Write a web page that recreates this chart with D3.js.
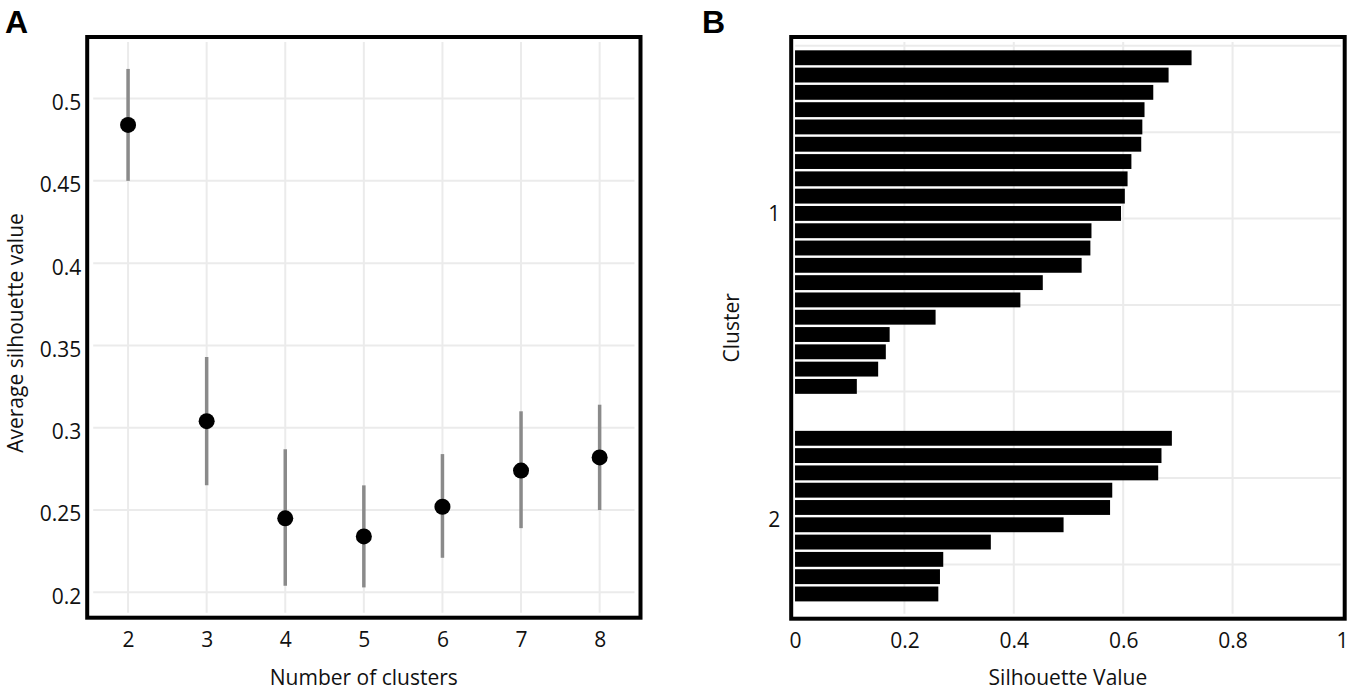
<!DOCTYPE html>
<html>
<head>
<meta charset="utf-8">
<script src="https://cdnjs.cloudflare.com/ajax/libs/d3/7.8.5/d3.min.js"></script>
<title>Silhouette analysis</title>
<style>
body { margin: 0; background: #fff; }
text { font-family: "Open Sans", sans-serif; fill: #111; }
.tick text { font-size: 21px; }
.title { font-size: 21px; }
.panel { font-family: "Liberation Sans", Arial, sans-serif; font-weight: bold; font-size: 32px; fill: #000; }
.grid line { stroke: #ebebeb; stroke-width: 2px; }
.frame { fill: none; stroke: #000; stroke-width: 4px; }
</style>
</head>
<body>
<div id="container"></div>
<script>
// Panel A: average silhouette value vs number of clusters
var clusters = [2, 3, 4, 5, 6, 7, 8];
var avgSil  = [0.484, 0.304, 0.245, 0.234, 0.252, 0.274, 0.282];
var silLow  = [0.450, 0.265, 0.204, 0.203, 0.221, 0.239, 0.250];
var silHigh = [0.518, 0.343, 0.287, 0.265, 0.284, 0.310, 0.314];
var yTicksA = [0.2, 0.25, 0.3, 0.35, 0.4, 0.45, 0.5];

// Panel B: silhouette values of the members of each cluster
var cluster1 = [0.725, 0.683, 0.655, 0.639, 0.635, 0.633, 0.615, 0.608, 0.603, 0.596,
                0.542, 0.540, 0.524, 0.453, 0.412, 0.257, 0.173, 0.166, 0.152, 0.113];
var cluster2 = [0.689, 0.670, 0.664, 0.580, 0.576, 0.491, 0.358, 0.271, 0.265, 0.262];
var clusterNames = ["1", "2"];
var clusterTickPos = [10, 27.7];   // row position of the cluster labels
var xTicksB = [0, 0.2, 0.4, 0.6, 0.8, 1];
var rowGridB = [0.3, 5.3, 10.3, 15.3, 20.3, 25.3, 30.3];
var gapRows = 2;  // empty rows between clusters

var w = 1350, h = 692;

var svg = d3.select("#container").append("svg")
    .attr("width", w)
    .attr("height", h);

// ---------- panel A ----------
var A = { x0: 87.2, x1: 640.5, y0: 37, y1: 617.7 };

var xA = d3.scaleLinear().domain([1.48, 8.52]).range([A.x0, A.x1]);
var yA = d3.scaleLinear().domain([0.1846, 0.5374]).range([A.y1, A.y0]);

var gA = svg.append("g");

var gridA = gA.append("g").attr("class", "grid");
gridA.selectAll("line.v").data(clusters).enter().append("line")
    .attr("x1", function(d) { return xA(d); })
    .attr("x2", function(d) { return xA(d); })
    .attr("y1", A.y0 + 5).attr("y2", A.y1 - 5);
gridA.selectAll("line.h").data(yTicksA).enter().append("line")
    .attr("y1", function(d) { return yA(d); })
    .attr("y2", function(d) { return yA(d); })
    .attr("x1", A.x0 + 6).attr("x2", A.x1 - 6);

// error bars
gA.selectAll("line.err").data(clusters).enter().append("line")
    .attr("x1", function(d) { return xA(d); })
    .attr("x2", function(d) { return xA(d); })
    .attr("y1", function(d, i) { return yA(silLow[i]); })
    .attr("y2", function(d, i) { return yA(silHigh[i]); })
    .attr("stroke", "#8a8a8a")
    .attr("stroke-width", 3.5);

gA.selectAll("circle").data(clusters).enter().append("circle")
    .attr("cx", function(d) { return xA(d); })
    .attr("cy", function(d, i) { return yA(avgSil[i]); })
    .attr("r", 8)
    .attr("fill", "#000");

gA.append("rect").attr("class", "frame")
    .attr("x", A.x0).attr("y", A.y0)
    .attr("width", A.x1 - A.x0).attr("height", A.y1 - A.y0);

var axA_x = gA.append("g")
    .attr("transform", "translate(0," + A.y1 + ")")
    .call(d3.axisBottom(xA).tickValues(clusters).tickSize(0).tickPadding(14).tickFormat(d3.format("d")));
axA_x.select(".domain").remove();

var axA_y = gA.append("g")
    .attr("transform", "translate(" + A.x0 + ",0)")
    .call(d3.axisLeft(yA).tickValues(yTicksA).tickSize(0).tickPadding(6)
        .tickFormat(function(d) { return String(+d.toFixed(2)); }));
axA_y.select(".domain").remove();
axA_y.selectAll("text").attr("dy", "0.52em");

gA.append("text").attr("class", "title")
    .attr("x", (A.x0 + A.x1) / 2).attr("y", 685)
    .attr("text-anchor", "middle")
    .text("Number of clusters");

gA.append("text").attr("class", "title")
    .attr("transform", "translate(22.5,333) rotate(-90)")
    .attr("text-anchor", "middle")
    .text("Average silhouette value");

svg.append("text").attr("class", "panel").attr("x", 5).attr("y", 33).text("A");

// ---------- panel B ----------
var B = { x0: 791.2, x1: 1344.7, y0: 37, y1: 618.7 };

var rows = [];
cluster1.forEach(function(v, i) { rows.push({ c: 1, v: v, row: i + 1 }); });
cluster2.forEach(function(v, i) { rows.push({ c: 2, v: v, row: cluster1.length + gapRows + i + 1 }); });

var xB = d3.scaleLinear().domain([-0.007, 1.005]).range([B.x0, B.x1]);
var yB = d3.scaleLinear().domain([-0.2, 33.43]).range([B.y0, B.y1]);
var rowH = yB(1) - yB(0);

var gB = svg.append("g");

var gridB = gB.append("g").attr("class", "grid");
gridB.selectAll("line.v").data(xTicksB.slice(1, -1)).enter().append("line")
    .attr("x1", function(d) { return xB(d); })
    .attr("x2", function(d) { return xB(d); })
    .attr("y1", B.y0 + 5).attr("y2", B.y1 - 5);
gridB.selectAll("line.h").data(rowGridB).enter().append("line")
    .attr("y1", function(d) { return yB(d); })
    .attr("y2", function(d) { return yB(d); })
    .attr("x1", B.x0 + 4).attr("x2", B.x1 - 4);

gB.selectAll("rect.bar").data(rows).enter().append("rect")
    .attr("class", "bar")
    .attr("x", xB(0))
    .attr("y", function(d) { return yB(d.row) - rowH * 0.43; })
    .attr("width", function(d) { return xB(d.v) - xB(0); })
    .attr("height", rowH * 0.86)
    .attr("fill", "#000");

gB.append("rect").attr("class", "frame")
    .attr("x", B.x0).attr("y", B.y0)
    .attr("width", B.x1 - B.x0).attr("height", B.y1 - B.y0);

var axB_x = gB.append("g")
    .attr("transform", "translate(0," + B.y1 + ")")
    .call(d3.axisBottom(xB).tickValues(xTicksB).tickSize(0).tickPadding(14)
        .tickFormat(function(d) { return String(d); }));
axB_x.select(".domain").remove();

var axB_y = gB.append("g")
    .attr("transform", "translate(" + (B.x0 - 11) + ",0)")
    .call(d3.axisLeft(yB).tickValues(clusterTickPos).tickSize(0).tickPadding(0)
        .tickFormat(function(d, i) { return clusterNames[i]; }));
axB_y.select(".domain").remove();
axB_y.selectAll("text").attr("dy", "0.35em");

gB.append("text").attr("class", "title")
    .attr("x", (B.x0 + B.x1) / 2).attr("y", 685)
    .attr("text-anchor", "middle")
    .text("Silhouette Value");

gB.append("text").attr("class", "title")
    .attr("transform", "translate(739," + (B.y0 + B.y1) / 2 + ") rotate(-90)")
    .attr("text-anchor", "middle")
    .text("Cluster");

svg.append("text").attr("class", "panel").attr("x", 702).attr("y", 33).text("B");
</script>
</body>
</html>
